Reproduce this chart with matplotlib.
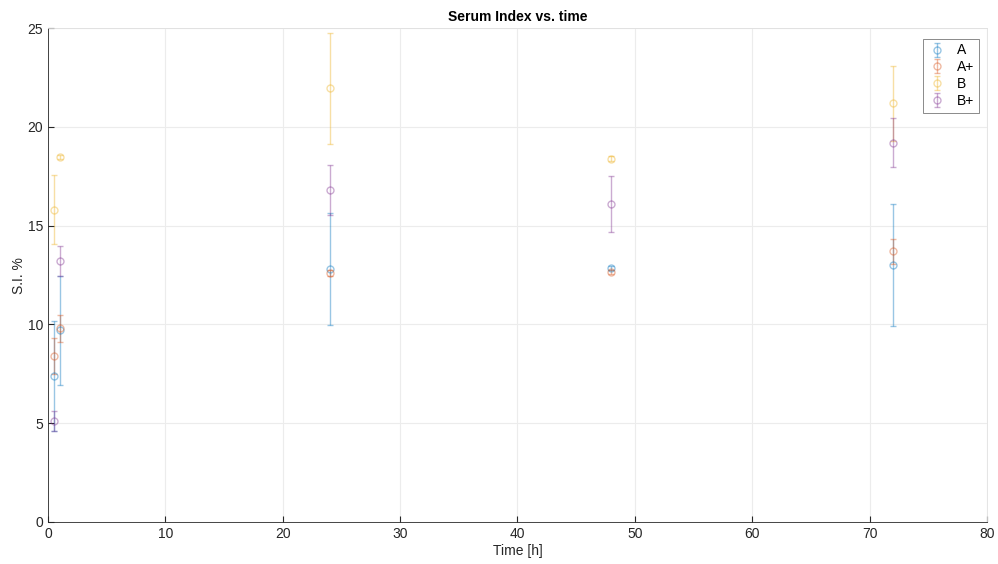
import matplotlib
matplotlib.use("Agg")
import matplotlib.pyplot as plt

plt.rcParams['font.family'] = ['Liberation Sans', 'DejaVu Sans']

# Sampling times [h]
time_h = [0.5, 1, 24, 48, 72]

# Serum index (%) mean and error per group
si_A = [7.4, 9.7, 12.8, 12.85, 13.0]
err_A = [2.8, 2.75, 2.85, 0.1, 3.1]

si_Ap = [8.4, 9.8, 12.6, 12.65, 13.7]
err_Ap = [0.9, 0.7, 0.15, 0.1, 0.65]

si_B = [15.8, 18.5, 21.95, 18.4, 21.2]
err_B = [1.75, 0.1, 2.8, 0.12, 1.9]

si_Bp = [5.1, 13.2, 16.8, 16.1, 19.2]
err_Bp = [0.5, 0.75, 1.25, 1.43, 1.25]

labels = ["A", "A+", "B", "B+"]
colors = ["#0072BD", "#D95319", "#EDB120", "#7E2F8E"]

fig = plt.figure(figsize=(9.98, 5.64), dpi=100)
ax = fig.add_axes([0.048, 0.0745, 0.941, 0.8755])

series = [(si_A, err_A), (si_Ap, err_Ap), (si_B, err_B), (si_Bp, err_Bp)]
for (vals, errs), lab, col in zip(series, labels, colors):
    ax.errorbar(time_h, vals, yerr=errs, fmt='o', color=col, alpha=0.4,
                markerfacecolor='none', markersize=5, markeredgewidth=1.0,
                elinewidth=1.0, capsize=2.5, capthick=1.0, label=lab)

ax.set_xlim(0, 80)
ax.set_ylim(0, 25)
ax.set_xticks(range(0, 81, 10))
ax.set_yticks(range(0, 26, 5))
ax.grid(True, color='#ececec', linewidth=0.8)
ax.set_axisbelow(True)
ax.tick_params(direction='in', length=4, color='#262626', labelsize=10,
               labelcolor='#262626', top=False, right=False)
for s in ax.spines.values():
    s.set_color('#262626')
    s.set_linewidth(0.6)
ax.spines['top'].set_color('#e0e0e0')
ax.spines['right'].set_color('#e0e0e0')

ax.set_title("Serum Index vs. time", fontsize=10, fontweight='bold', pad=5)
ax.set_xlabel("Time [h]", fontsize=10, labelpad=2, color='#262626')
ax.set_ylabel("S.I. %", fontsize=10, labelpad=1, color='#262626')

leg = ax.legend(loc='upper right', fontsize=10, frameon=True, fancybox=False,
                edgecolor='#555555', handlelength=1.4, borderpad=0.35,
                labelspacing=0.2, handletextpad=0.7,
                bbox_to_anchor=(0.9985, 0.993))
leg.get_frame().set_linewidth(0.6)

fig.savefig("out.png", dpi=100)
